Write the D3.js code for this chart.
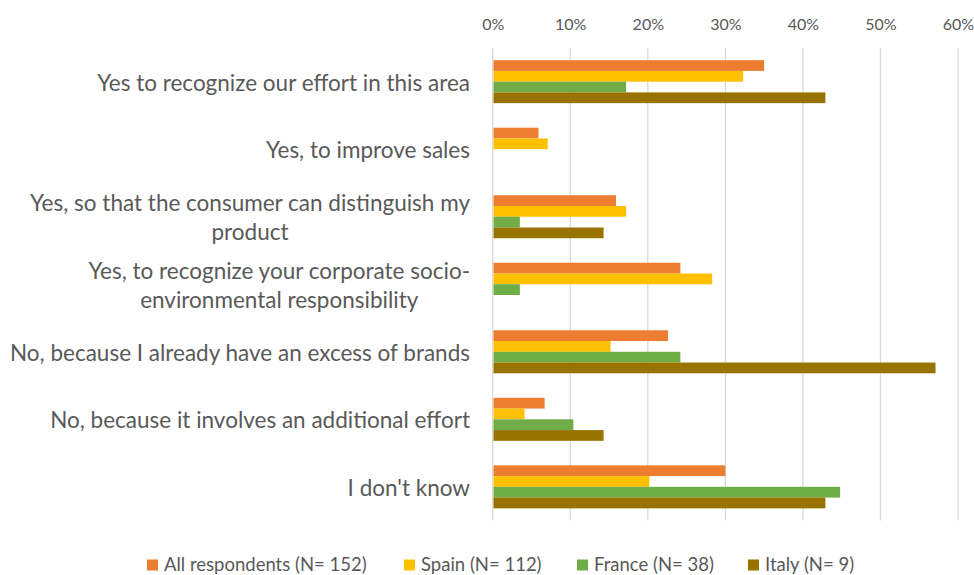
<!DOCTYPE html>
<html lang="en">
<head>
<meta charset="UTF-8">
<title>Brand recognition survey</title>
<style>
    body {
        margin: 0;
        padding: 0;
        background-color: #fff;
        font-family: Lato, "Noto Sans", sans-serif;
    }
    #chart text {
        fill: #595959;
        font-family: Lato, "Noto Sans", sans-serif;
    }
</style>
</head>
<body>
<svg id="chart" width="974" height="575"></svg>

<script src="https://d3js.org/d3.v7.min.js"></script>
<script>
    // categories (top to bottom), "\n" marks a line break in the label
    var categories = [
        "Yes to recognize our effort in this area",
        "Yes, to improve sales",
        "Yes, so that the consumer can distinguish my\nproduct",
        "Yes, to recognize your corporate socio-\nenvironmental responsibility",
        "No, because I already have an excess of brands",
        "No, because it involves an additional effort",
        "I don't know"
    ];
    var seriesNames = ["All respondents (N= 152)", "Spain (N= 112)", "France (N= 38)", "Italy (N= 9)"];
    var seriesColors = ["#ED7D31", "#FFC000", "#70AD47", "#997300"];

    // values in %
    var allRespondents = [35.0, 5.9, 15.9, 24.2, 22.6, 6.7, 30.0];
    var spain          = [32.3, 7.1, 17.2, 28.3, 15.2, 4.1, 20.2];
    var france         = [17.2, 0, 3.5, 3.5, 24.2, 10.4, 44.8];
    var italy          = [42.9, 0, 14.3, 0, 57.1, 14.3, 42.9];
    var tickValues = [0, 10, 20, 30, 40, 50, 60];

    var series = [allRespondents, spain, france, italy];

    const svg = d3.select("#chart");

    // 比例尺
    const xScale = d3.scaleLinear()
        .domain([0, 60])
        .range([492.7, 958]);

    const yScale = d3.scaleBand()
        .domain(categories)
        .range([48, 520.5])
        .paddingInner(0.363)
        .paddingOuter(0.18);

    const ySub = d3.scaleBand()
        .domain(d3.range(series.length))
        .range([0, yScale.bandwidth()]);

    // gridlines
    svg.append("g")
        .selectAll("line")
        .data(tickValues)
        .join("line")
        .attr("x1", d => xScale(d))
        .attr("x2", d => xScale(d))
        .attr("y1", 48)
        .attr("y2", 520.5)
        .attr("stroke", "#d9d9d9")
        .attr("stroke-width", 1.3);

    // top axis labels
    const xAxis = d3.axisTop(xScale)
        .tickValues(tickValues)
        .tickFormat(d => d + "%")
        .tickSize(0)
        .tickPadding(0);

    const axisG = svg.append("g")
        .attr("transform", "translate(0, 30)")
        .call(xAxis);
    axisG.select(".domain").remove();
    axisG.selectAll("text")
        .attr("fill", null)
        .style("font-family", "Lato, 'Noto Sans', sans-serif")
        .style("font-size", "16px");

    // bars
    series.forEach(function(vals, s) {
        svg.append("g")
            .selectAll("rect")
            .data(vals)
            .join("rect")
            .attr("x", xScale(0) + 0.8)
            .attr("y", (d, i) => yScale(categories[i]) + ySub(s))
            .attr("width", d => Math.max(0, xScale(d) - xScale(0) - 0.8))
            .attr("height", ySub.bandwidth())
            .attr("fill", seriesColors[s]);
    });

    // category labels
    const labelRight = 470;
    const lineH = 29;
    categories.forEach(function(cat) {
        const lines = cat.split("\n");
        const cy = yScale(cat) + yScale.bandwidth() / 2;
        const t = svg.append("text")
            .attr("font-size", "22.5px")
            .attr("text-anchor", "middle")
            .attr("dominant-baseline", "central");
        const spans = lines.map(function(l, k) {
            return t.append("tspan")
                .attr("y", cy + (k - (lines.length - 1) / 2) * lineH)
                .text(l);
        });
        // centre lines against each other, right-align the block
        var w = d3.max(spans, sp => sp.node().getComputedTextLength());
        spans.forEach(sp => sp.attr("x", labelRight - w / 2));
    });

    // legend
    const legendX = [147, 404, 577, 748];
    const legend = svg.append("g");
    seriesNames.forEach(function(name, s) {
        legend.append("rect")
            .attr("x", legendX[s])
            .attr("y", 559.5)
            .attr("width", 11)
            .attr("height", 11)
            .attr("fill", seriesColors[s]);
        legend.append("text")
            .attr("x", legendX[s] + 17)
            .attr("y", 564)
            .attr("dominant-baseline", "central")
            .attr("font-size", "18.5px")
            .text(name);
    });
</script>
</body>
</html>
